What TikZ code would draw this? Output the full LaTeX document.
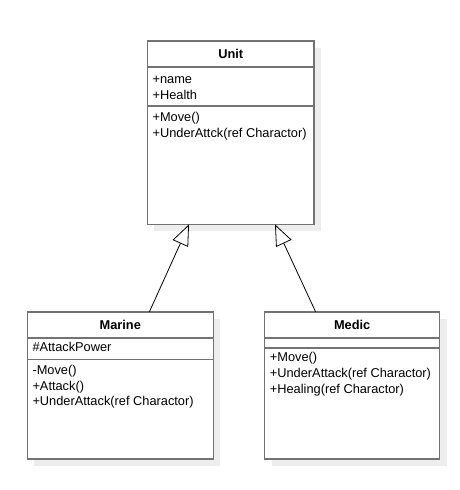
\documentclass[tikz,border=0pt]{standalone}
\usepackage{fontspec}
\setmainfont{Liberation Sans}
\usetikzlibrary{arrows.meta,calc,shadows}
\tikzset{
  umlclass/.style={draw=black!55, line width=1.4pt, fill=white, outer sep=0pt,
    drop shadow={shadow xshift=7pt, shadow yshift=-7pt, fill=black!7, opacity=1}},
  umlsep/.style={draw=black!55, line width=1.4pt},
  classname/.style={font=\fontsize{12.8}{15}\selectfont\bfseries, inner sep=0pt},
  members/.style={font=\fontsize{12.8}{15.7}\selectfont, align=left, anchor=base west, inner sep=0pt},
  inherit/.style={-{Triangle[open, length=21pt, width=17pt]}, line width=0.8pt},
}

\begin{document}
\begin{tikzpicture}[x=1pt, y=-1pt]
  \useasboundingbox (0,0) rectangle (460,490);
  % class boxes
  \node[umlclass, minimum width=166.7pt, minimum height=183.3pt] (unit) at (230.7,132.7) {};
  \node[umlclass, minimum width=186pt, minimum height=147pt] (marine) at (120.3,385.5) {};
  \node[umlclass, minimum width=175pt, minimum height=147pt] (medic) at (352.2,385.5) {};
  % Unit
  \node[classname] (unitname) at ($(unit.north)+(0,13)$) {Unit};
  \draw[umlsep] ($(unit.north west)+(0,26)$) -- ($(unit.north east)+(0,26)$);
  \draw[umlsep] ($(unit.north west)+(0,65)$) -- ($(unit.north east)+(0,65)$);
  \node[members] (unitattr) at ($(unit.north west)+(5,58)$) {+name\\+Health};
  \node[members] (unitops) at ($(unit.north west)+(5,96)$) {+Move()\\+UnderAttck(ref Charactor)};
  % Marine
  \node[classname] (marinename) at ($(marine.north)+(0,13)$) {Marine};
  \draw[umlsep] ($(marine.north west)+(0,26)$) -- ($(marine.north east)+(0,26)$);
  \draw[umlsep] ($(marine.north west)+(0,47.5)$) -- ($(marine.north east)+(0,47.5)$);
  \node[members] (marineattr) at ($(marine.north west)+(5,39.7)$) {\#AttackPower};
  \node[members] (marineops) at ($(marine.north west)+(5,93.7)$) {-Move()\\+Attack()\\+UnderAttack(ref Charactor)};
  % Medic
  \node[classname] (medicname) at ($(medic.north)+(0,13)$) {Medic};
  \draw[umlsep] ($(medic.north west)+(0,26)$) -- ($(medic.north east)+(0,26)$);
  \draw[umlsep] ($(medic.north west)+(0,36)$) -- ($(medic.north east)+(0,36)$);
  \node[members] (medicops) at ($(medic.north west)+(5,81)$) {+Move()\\+UnderAttack(ref Charactor)\\+Healing(ref Charactor)};
  % inheritance
  \draw[inherit] ($(marine.north)+(29,0)$) -- ($(unit.south)+(-41.7,0)$);
  \draw[inherit] ($(medic.north)+(-36.5,0)$) -- ($(unit.south)+(44.3,0)$);
\end{tikzpicture}
\end{document}
